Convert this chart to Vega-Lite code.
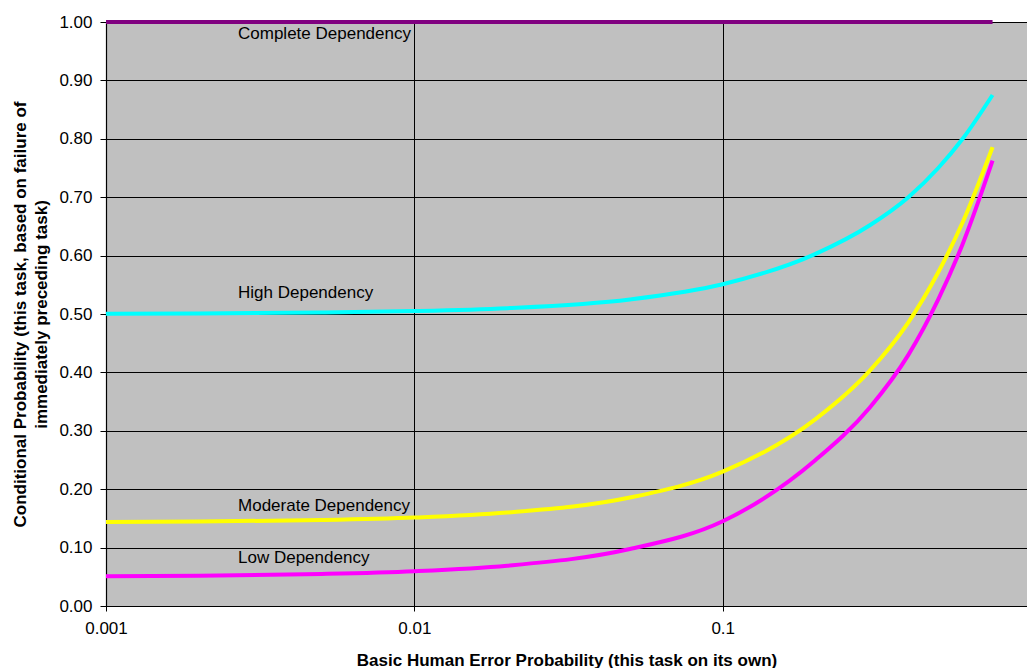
{
  "$schema": "https://vega.github.io/schema/vega-lite/v6.json",
  "width": 921,
  "height": 584,
  "autosize": "none",
  "padding": {"left": 106, "top": 22, "right": 0, "bottom": 62},
  "background": "white",
  "config": {
    "view": {"stroke": null, "fill": "#C0C0C0"},
    "font": "Liberation Sans",
    "axis": {
      "labelFont": "Liberation Sans",
      "titleFont": "Liberation Sans",
      "labelFontSize": 17,
      "labelColor": "#000000",
      "titleColor": "#000000",
      "titleFontSize": 17,
      "titleFontWeight": "bold",
      "tickColor": "#000000",
      "domainColor": "#000000",
      "gridColor": "#000000",
      "gridOpacity": 1,
      "gridWidth": 1,
      "domainWidth": 1.2,
      "labelFlush": false
    }
  },
  "datasets": {
    "curves": [
      {"series": "Complete", "bhep": 0.001, "p": 1.0},
      {"series": "Complete", "bhep": 0.75, "p": 1.0},
      {"series": "High", "bhep": 0.001, "p": 0.5005},
      {"series": "High", "bhep": 0.002, "p": 0.501},
      {"series": "High", "bhep": 0.005, "p": 0.5025},
      {"series": "High", "bhep": 0.01, "p": 0.505},
      {"series": "High", "bhep": 0.02, "p": 0.51},
      {"series": "High", "bhep": 0.05, "p": 0.525},
      {"series": "High", "bhep": 0.1, "p": 0.551},
      {"series": "High", "bhep": 0.2, "p": 0.603},
      {"series": "High", "bhep": 0.3, "p": 0.652},
      {"series": "High", "bhep": 0.4, "p": 0.7},
      {"series": "High", "bhep": 0.5, "p": 0.75},
      {"series": "High", "bhep": 0.6, "p": 0.8},
      {"series": "High", "bhep": 0.75, "p": 0.875},
      {"series": "Moderate", "bhep": 0.001, "p": 0.1437},
      {"series": "Moderate", "bhep": 0.002, "p": 0.1446},
      {"series": "Moderate", "bhep": 0.005, "p": 0.1471},
      {"series": "Moderate", "bhep": 0.01, "p": 0.1514},
      {"series": "Moderate", "bhep": 0.02, "p": 0.16},
      {"series": "Moderate", "bhep": 0.05, "p": 0.1857},
      {"series": "Moderate", "bhep": 0.1, "p": 0.23},
      {"series": "Moderate", "bhep": 0.2, "p": 0.32},
      {"series": "Moderate", "bhep": 0.3, "p": 0.403},
      {"series": "Moderate", "bhep": 0.4, "p": 0.4857},
      {"series": "Moderate", "bhep": 0.5, "p": 0.5714},
      {"series": "Moderate", "bhep": 0.6, "p": 0.6571},
      {"series": "Moderate", "bhep": 0.75, "p": 0.7857},
      {"series": "Low", "bhep": 0.001, "p": 0.051},
      {"series": "Low", "bhep": 0.002, "p": 0.0519},
      {"series": "Low", "bhep": 0.005, "p": 0.0548},
      {"series": "Low", "bhep": 0.01, "p": 0.0595},
      {"series": "Low", "bhep": 0.02, "p": 0.069},
      {"series": "Low", "bhep": 0.05, "p": 0.0975},
      {"series": "Low", "bhep": 0.1, "p": 0.145},
      {"series": "Low", "bhep": 0.2, "p": 0.25},
      {"series": "Low", "bhep": 0.3, "p": 0.34},
      {"series": "Low", "bhep": 0.4, "p": 0.43},
      {"series": "Low", "bhep": 0.5, "p": 0.525},
      {"series": "Low", "bhep": 0.6, "p": 0.62},
      {"series": "Low", "bhep": 0.75, "p": 0.7625}
    ],
    "labels": [
      {"label": "Complete Dependency", "bhep": 0.00268, "p": 0.979},
      {"label": "High Dependency", "bhep": 0.00268, "p": 0.536},
      {"label": "Moderate Dependency", "bhep": 0.00268, "p": 0.171},
      {"label": "Low Dependency", "bhep": 0.00268, "p": 0.082}
    ]
  },
  "layer": [
    {
      "data": {"name": "curves"},
      "mark": {"type": "line", "strokeWidth": 4, "interpolate": "monotone", "clip": false},
      "encoding": {
        "x": {
          "field": "bhep",
          "type": "quantitative",
          "scale": {"type": "log", "domain": [0.001, 0.97], "nice": false},
          "axis": {
            "values": [0.001, 0.01, 0.1],
            "format": "~g",
            "grid": true,
            "tickSize": 5,
            "labelPadding": 9,
            "labelFlush": false,
            "title": "Basic Human Error Probability (this task on its own)",
            "titleBaseline": "alphabetic",
            "titleY": 59
          }
        },
        "y": {
          "field": "p",
          "type": "quantitative",
          "scale": {"domain": [0, 1], "nice": false, "zero": true},
          "axis": {
            "values": [0, 0.1, 0.2, 0.3, 0.4, 0.5, 0.6, 0.7, 0.8, 0.9, 1.0],
            "format": ".2f",
            "grid": true,
            "tickSize": 6,
            "labelPadding": 8,
            "labelFlush": false,
            "title": ["Conditional Probability (this task, based on failure of", "immediately preceding task)"],
            "titleAngle": 270,
            "titleAlign": "center",
            "titleBaseline": "middle",
            "titleLineHeight": 21,
            "titleX": -86,
            "titleY": 292
          }
        },
        "color": {
          "field": "series",
          "type": "nominal",
          "scale": {
            "domain": ["Complete", "High", "Moderate", "Low"],
            "range": ["#800080", "#00FFFF", "#FFFF00", "#FF00FF"]
          },
          "legend": null
        }
      }
    },
    {
      "data": {"name": "labels"},
      "mark": {"type": "text", "align": "left", "baseline": "middle", "fontSize": 17, "color": "#000000", "font": "Liberation Sans"},
      "encoding": {
        "x": {"field": "bhep", "type": "quantitative"},
        "y": {"field": "p", "type": "quantitative"},
        "text": {"field": "label", "type": "nominal"}
      }
    }
  ]
}
